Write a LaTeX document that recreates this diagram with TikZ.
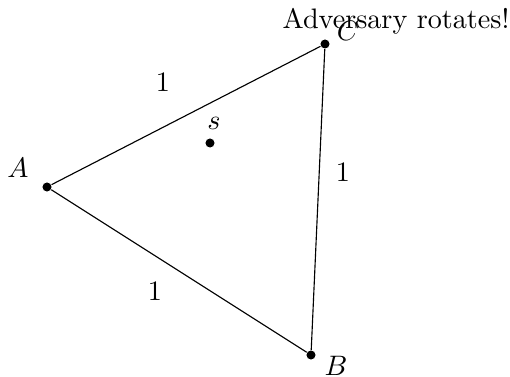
\documentclass[tikz,border=0pt]{standalone}
\tikzset{every picture/.style={line width=0.4pt}}
\tikzset{pt/.style={circle,fill=black,inner sep=0pt,minimum size=3.2pt}}

\begin{document}
\begin{tikzpicture}[x=0.355pt,y=0.355pt,yscale=-1,xscale=1]
\useasboundingbox (0,0) rectangle (510,377);

% Points
\node [pt] (A) at (47,187) {};
\node [pt] (B) at (311,355) {};
\node [pt] (C) at (325,44) {};
\node [pt] (s) at (210,143) {};

% Straight Lines
\draw (A) -- (C) ;
\draw (C) -- (B) ;
\draw (B) -- (A) ;

% Text Node
\node [inner sep=0.75pt] (lA) at (18,168) {$A$};
% Text Node
\node [inner sep=0.75pt] (lB) at (336,366) {$B$};
% Text Node
\node [inner sep=0.75pt] (lC) at (348,31) {$C$};
% Text Node
\node [inner sep=0.75pt] (ls) at (214,123) {$s$};
% Text Node
\node [inner sep=0.75pt] (eAC) at (163,82) {$1$};
% Text Node
\node [inner sep=0.75pt] (eCB) at (343,172) {$1$};
% Text Node
\node [inner sep=0.75pt] (eAB) at (155,291) {$1$};
% Text Node
\node [inner sep=0.75pt] (msg) at (396,21) {Adversary rotates!};

\end{tikzpicture}
\end{document}
